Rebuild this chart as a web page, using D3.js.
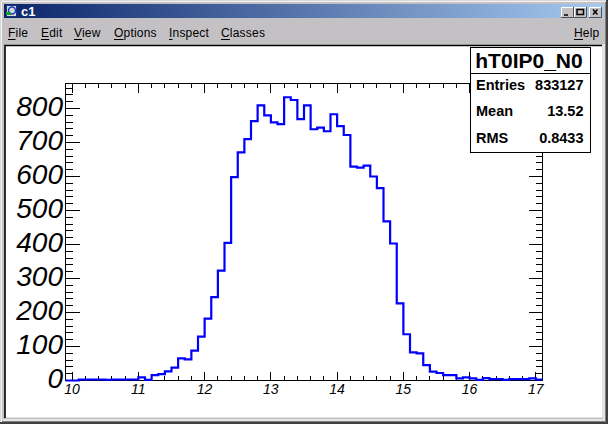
<!DOCTYPE html>
<html>
<head>
<meta charset="utf-8">
<style>
html, body { margin: 0; padding: 0; background: #c3c1c4; }
svg { display: block; }
</style>
<script src="https://cdn.jsdelivr.net/npm/d3@7"></script>
</head>
<body>
<svg width="608" height="424"></svg>
<script>
// bin contents, one per 0.1 wide bin starting at 9.9
const binStart = 9.9;
const binWidth = 0.1;
const counts = [
  0, 0, 3, 3, 3, 3, 2, 3, 3, 3, 3,
  9, 2, 16, 19, 27, 38, 65, 62, 88, 129,
  182, 245, 323, 405, 598, 671, 710, 763, 809, 780,
  759, 754, 833, 825, 769, 809, 739, 744, 733, 783,
  748, 722, 629, 626, 632, 600, 566, 468, 403, 227,
  136, 83, 80, 45, 26, 22, 16, 16, 6, 9,
  6, 2, 7, 4, 4, 2, 4, 4, 4, 6, 3
];
const xTicks = [10, 11, 12, 13, 14, 15, 16, 17];
const yTicks = [0, 100, 200, 300, 400, 500, 600, 700, 800];
const menuLeft = ["File", "Edit", "View", "Options", "Inspect", "Classes"];
const statLabels = ["Entries", "Mean", "RMS"];
const statValues = ["833127", "13.52", "0.8433"];
const statTitle = "hT0IP0_N0";

const svg = d3.select("svg");
const frame = {left: 65.5, right: 542.5, top: 83.5, bottom: 380.5};
const uiFont = "Liberation Sans, sans-serif";

const defs = svg.append("defs");
const grad = defs.append("linearGradient").attr("id", "titlebar");
grad.append("stop").attr("offset", "0%").attr("stop-color", "#0a246a");
grad.append("stop").attr("offset", "100%").attr("stop-color", "#a6caf0");

// window chrome
svg.append("rect").attr("width", 608).attr("height", 424).attr("fill", "#c3c1c4");
svg.append("path").attr("d", "M0.5,424V0.5H608").attr("fill", "none").attr("stroke", "#d8d6d8");
svg.append("path").attr("d", "M1.5,423V1.5H607").attr("fill", "none").attr("stroke", "#f4f4f4");
svg.append("path").attr("d", "M607,0V423H0").attr("fill", "none").attr("stroke", "#404040").attr("stroke-width", 2);
svg.append("path").attr("d", "M605.5,2V421.5H2").attr("fill", "none").attr("stroke", "#808080");
svg.append("rect").attr("x", 4).attr("y", 4).attr("width", 600).attr("height", 14).attr("fill", "url(#titlebar)");
svg.append("text").attr("x", 21).attr("y", 16).text("c1")
    .attr("font-family", uiFont).attr("font-size", 13).attr("font-weight", "bold").attr("fill", "#fff");

// title icon
svg.append("rect").attr("x", 6.5).attr("y", 5.5).attr("width", 10).attr("height", 11).attr("fill", "#d8d8d8").attr("stroke", "#203080");
svg.append("circle").attr("cx", 12).attr("cy", 10.5).attr("r", 3.5).attr("fill", "none").attr("stroke", "#1040c0").attr("stroke-width", 1.5);
svg.append("rect").attr("x", 6).attr("y", 12).attr("width", 5).attr("height", 3).attr("fill", "#10a030");

// window buttons
const buttonGlyphs = ["M3,8H7", "M3,2.5H9.5V7.5H3Z", "M4,2.5L8.5,7.5M8.5,2.5L4,7.5"];
[561, 574, 589].forEach((bx, i) => {
  const b = svg.append("g").attr("transform", "translate(" + bx + ",7)");
  b.append("rect").attr("width", 12.5).attr("height", 10).attr("fill", "#c3c1c4");
  b.append("path").attr("d", "M0.5,10V0.5H12.5").attr("fill", "none").attr("stroke", "#fff");
  b.append("path").attr("d", "M12.5,0V10.5H0").attr("fill", "none").attr("stroke", "#505050");
  b.append("path").attr("d", buttonGlyphs[i]).attr("fill", "none").attr("stroke", "#000").attr("stroke-width", 1.5);
});

// menu bar
const menuX = [8, 41, 74, 114, 169, 221];
const menu = svg.append("g").attr("font-family", uiFont).attr("font-size", 12).attr("letter-spacing", 0.2).attr("fill", "#000");
menuLeft.forEach((m, i) => {
  const t = menu.append("text").attr("x", menuX[i]).attr("y", 37).text(m);
  const w = t.node().getSubStringLength(0, 1);
  menu.append("rect").attr("x", menuX[i]).attr("y", 39).attr("width", w).attr("height", 1);
});
menu.append("text").attr("x", 574).attr("y", 37).text("Help");
menu.append("rect").attr("x", 574).attr("y", 39).attr("width", 9).attr("height", 1);

// canvas
svg.append("rect").attr("x", 4).attr("y", 44).attr("width", 600).attr("height", 375).attr("fill", "#c3c1c4");
svg.append("rect").attr("x", 5).attr("y", 45).attr("width", 597.5).attr("height", 372.5).attr("fill", "#fff");
svg.append("path").attr("d", "M5,418V45.5H602").attr("fill", "none").attr("stroke", "#000").attr("stroke-width", 1.6);
svg.append("path").attr("d", "M3,420H604V44").attr("fill", "none").attr("stroke", "#efefef").attr("stroke-width", 1.5);

// scales
const x = d3.scaleLinear().domain([9.9, 17.1]).range([frame.left, frame.right]);
const y = d3.scaleLinear().domain([0, 873.5]).range([frame.bottom, frame.top]);

// histogram outline
const points = [];
counts.forEach((c, i) => {
  const lo = binStart + i * binWidth;
  points.push([lo, c], [lo + binWidth, c]);
});
const line = d3.line().x(d => x(d[0])).y(d => y(d[1]));

const plot = svg.append("g");
const axes = plot.append("g").attr("shape-rendering", "crispEdges");
axes.append("rect").attr("x", frame.left).attr("y", frame.top)
    .attr("width", frame.right - frame.left).attr("height", frame.bottom - frame.top)
    .attr("fill", "none").attr("stroke", "#000");

const xMinor = d3.range(10, 17.01, 0.2).map(d => +d.toFixed(1));
const xAxisLines = g => g.selectAll("line").data(xMinor).join("line")
    .attr("x1", d => x(d)).attr("x2", d => x(d))
    .attr("stroke", "#000");
axes.append("g").call(xAxisLines)
    .selectAll("line")
    .attr("y1", frame.bottom)
    .attr("y2", d => frame.bottom - (Number.isInteger(d) ? 9 : 4.5));
axes.append("g").call(xAxisLines)
    .selectAll("line")
    .attr("y1", frame.top)
    .attr("y2", d => frame.top + (Number.isInteger(d) ? 9 : 4.5));

const yMinor = d3.range(0, 861, 20);
const yAxisLines = g => g.selectAll("line").data(yMinor).join("line")
    .attr("y1", d => y(d)).attr("y2", d => y(d))
    .attr("stroke", "#000");
axes.append("g").call(yAxisLines)
    .selectAll("line")
    .attr("x1", frame.left)
    .attr("x2", d => frame.left + (d % 100 == 0 ? 14 : 7));
axes.append("g").call(yAxisLines)
    .selectAll("line")
    .attr("x1", frame.right)
    .attr("x2", d => frame.right - (d % 100 == 0 ? 14 : 7));

plot.append("path").attr("d", line(points)).attr("fill", "none")
    .attr("stroke", "#0000ff").attr("stroke-width", 2.2);

// tick labels
plot.append("g").selectAll("text").data(xTicks).join("text")
    .attr("x", d => x(d)).attr("y", 394)
    .attr("text-anchor", "middle")
    .attr("font-family", uiFont).attr("font-style", "italic").attr("font-size", 14)
    .text(d => d);
plot.append("g").selectAll("text").data(yTicks).join("text")
    .attr("x", 63).attr("y", d => y(d) + 7.5)
    .attr("text-anchor", "end")
    .attr("font-family", uiFont).attr("font-style", "italic").attr("font-size", 28)
    .text(d => d);

// stats box
const box = svg.append("g").attr("font-family", uiFont).attr("font-weight", "bold");
box.append("rect").attr("x", 470.5).attr("y", 47.5).attr("width", 120).attr("height", 105)
    .attr("fill", "#fff").attr("stroke", "#000").attr("shape-rendering", "crispEdges");
box.append("line").attr("x1", 470.5).attr("x2", 590.5).attr("y1", 73.5).attr("y2", 73.5)
    .attr("stroke", "#000").attr("shape-rendering", "crispEdges");
box.append("text").attr("x", 529).attr("y", 68).attr("text-anchor", "middle").attr("font-size", 21).text(statTitle);
const statY = [90, 116, 143];
statLabels.forEach((s, i) => {
  box.append("text").attr("x", 476).attr("y", statY[i]).attr("font-size", 14.5).text(s);
  box.append("text").attr("x", 583.5).attr("y", statY[i]).attr("text-anchor", "end").attr("font-size", 14.5).text(statValues[i]);
});
</script>
</body>
</html>
